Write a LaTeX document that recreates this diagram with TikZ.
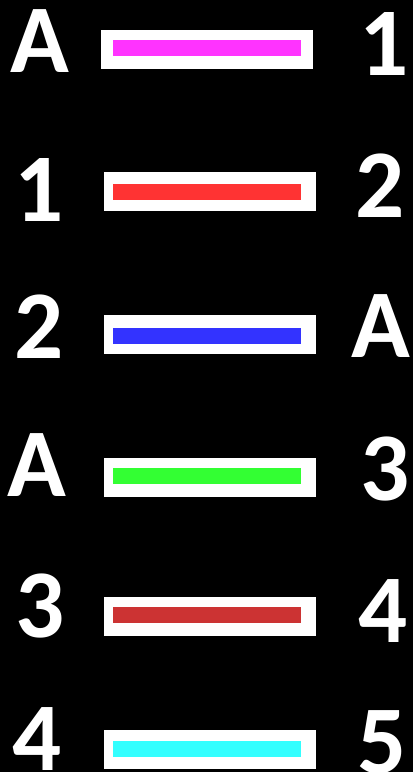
\documentclass[tikz,border=0pt]{standalone}
\usepackage{fontspec}
\setmainfont{Carlito}
\usepackage{tikz}
\definecolor{rosa}{RGB}{255,51,255}
\definecolor{rojo}{RGB}{255,51,51}
\definecolor{azulb}{RGB}{51,51,255}
\definecolor{verdeb}{RGB}{51,255,51}
\definecolor{granate}{RGB}{204,51,51}
\definecolor{cian}{RGB}{51,255,255}
\tikzset{
  marco/.style={fill=white, draw=none, rectangle, inner sep=0pt, minimum width=212pt, minimum height=39pt},
  barra/.style={draw=none, rectangle, inner sep=0pt, minimum width=188pt, minimum height=16pt},
  etq/.style={text=white, anchor=base, inner sep=0pt, font=\fontsize{97}{97}\selectfont\bfseries},
}

\begin{document}
\begin{tikzpicture}[x=1pt,y=-1pt]
  \fill[black] (0,0) rectangle (413,772);
  \useasboundingbox (0,0) rectangle (413,772);
  % fila 1
  \node[etq] (i1) at (40,72) {A};
  \node[marco] (m1) at (207,49.5) {};
  \node[barra, fill=rosa] (b1) at (207,48) {};
  \node[etq] (d1) at (384,75) {1};
  % fila 2
  \node[etq] (i2) at (39.5,221) {1};
  \node[marco] (m2) at (210,191.5) {};
  \node[barra, fill=rojo] (b2) at (207,192) {};
  \node[etq] (d2) at (380.5,217) {2};
  % fila 3
  \node[etq] (i3) at (39,358) {2};
  \node[marco] (m3) at (210,334) {};
  \node[barra, fill=azulb] (b3) at (207,336) {};
  \node[etq] (d3) at (381,357) {A};
  % fila 4
  \node[etq] (i4) at (36.5,496) {A};
  \node[marco] (m4) at (209.5,477.5) {};
  \node[barra, fill=verdeb] (b4) at (207,475.5) {};
  \node[etq] (d4) at (385.5,500) {3};
  % fila 5
  \node[etq] (i5) at (40.5,637) {3};
  \node[marco] (m5) at (210,616.5) {};
  \node[barra, fill=granate] (b5) at (207,615) {};
  \node[etq] (d5) at (383,642) {4};
  % fila 6
  \node[etq] (i6) at (37.5,770) {4};
  \node[marco] (m6) at (210,749.5) {};
  \node[barra, fill=cian] (b6) at (207,749) {};
  \node[etq] (d6) at (382.5,773) {5};
\end{tikzpicture}
\end{document}
